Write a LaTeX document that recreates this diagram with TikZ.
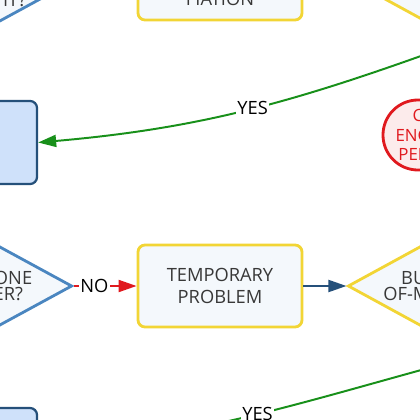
\documentclass[tikz,border=0pt]{standalone}
\usepackage{fontspec}
\setmainfont{Open Sans}
\usepackage{tikz}
\usetikzlibrary{positioning,arrows.meta,shapes.geometric}
\definecolor{ProcYellow}{HTML}{F2D535}
\definecolor{PaleFill}{HTML}{F4F8FC}
\definecolor{HelpBlue}{HTML}{25507A}
\definecolor{HelpFill}{HTML}{CFE1FA}
\definecolor{AskBlue}{HTML}{4A86C0}
\definecolor{StopRed}{HTML}{E0191E}
\definecolor{StopFill}{HTML}{FCEBEB}
\definecolor{YesGreen}{HTML}{18901A}
\definecolor{InkGray}{HTML}{383838}
\tikzset{
  ybox/.style={draw=ProcYellow,line width=2pt,rounded corners=5pt,fill=PaleFill,align=center,text=InkGray,font=\fontsize{13}{16}\selectfont,minimum width=4.1cm,minimum height=2.05cm,inner sep=0pt},
  hbox/.style={draw=HelpBlue,line width=1.6pt,rounded corners=5pt,fill=HelpFill,minimum width=4.1cm,minimum height=2.075cm},
  ask/.style={diamond,aspect=1.825,draw=AskBlue,line width=2pt,fill=PaleFill,align=center,text=InkGray,font=\fontsize{13}{11.5}\selectfont,inner sep=0pt,minimum width=4.25cm,minimum height=2.325cm},
  yask/.style={ask,draw=ProcYellow,minimum width=6.25cm,minimum height=3.425cm},
  stopcirc/.style={circle,draw=StopRed,line width=2pt,fill=StopFill,text=StopRed,align=center,font=\fontsize{12}{14}\selectfont,minimum size=1.75cm,inner sep=0pt},
  arr/.style={-{Triangle[length=4.5mm,width=3mm]},line width=1.4pt},
  lbl/.style={fill=white,inner sep=1pt,text=black,font=\fontsize{13}{13}\selectfont},
}

\begin{document}
\begin{tikzpicture}[x=0.025cm,y=-0.025cm]
\useasboundingbox (0,0) rectangle (420,420);
\clip (0,0) rectangle (420,420);
% top row
\node[ask] (reboot) at (-35,-8) {HAVE YOU\\REBOOTED IT?};
\node[ybox,minimum height=1.05cm] (fixbox) at (220,-1) {FIATION};
\node[yask] (topask) at (460,-28) {};
\node[hbox] (help1) at (-45,142.5) {};
\node[stopcirc] (callcirc) at (418,135) {C\\ENGR\\PERS};
% middle row
\node[ybox] (tempbox) at (220,286) {TEMPORARY\\PROBLEM};
\node[ask,left=1.575cm of tempbox] (oneask) {ONLY ONE\\SERVER?};
\node[yask,right=1.075cm of tempbox] (memask) {BUFFER OR OUT-\\OF-MEMORY CRASH?};
\node[hbox] (help2) at (-45,449.5) {};
% connectors
\draw[arr,StopRed] (oneask) -- node[lbl,pos=0.33]{NO} (tempbox);
\draw[arr,HelpBlue] (tempbox) -- (memask);
\draw[arr,YesGreen] (topask.south) to[out=200,in=5] node[lbl]{YES} (help1.east);
\draw[arr,YesGreen] (memask.south) to[out=195,in=5] node[lbl]{YES} (help2.east);
\end{tikzpicture}
\end{document}
